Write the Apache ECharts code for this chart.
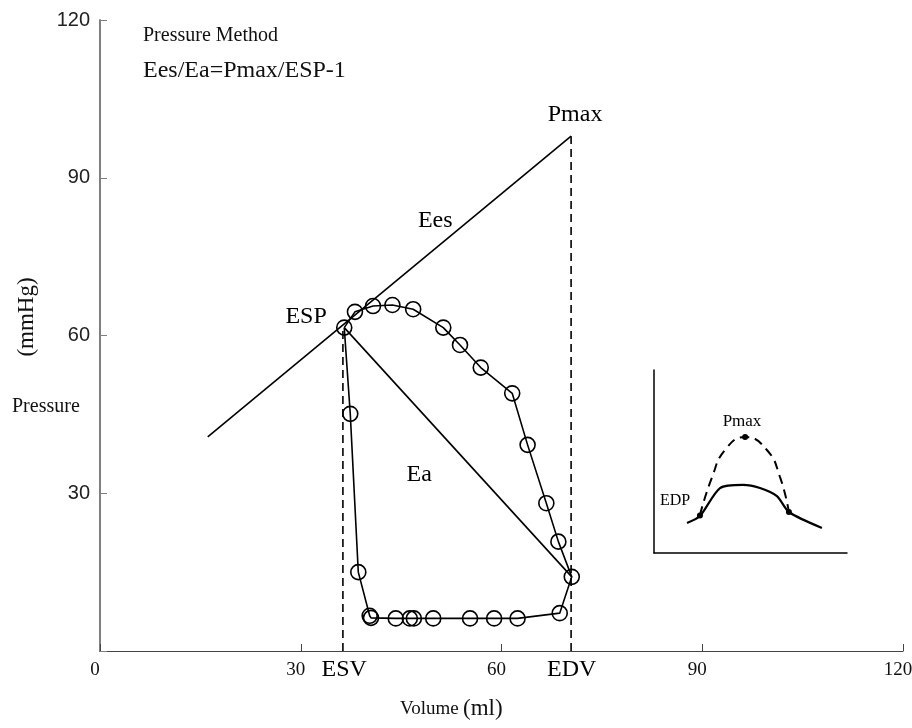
<!DOCTYPE html>
<html>
<head>
<meta charset="utf-8">
<script src="https://cdn.jsdelivr.net/npm/echarts@6/dist/echarts.min.js"></script>
<style>
  html, body { margin: 0; padding: 0; background: #fff; }
  #main { width: 912px; height: 728px; }
</style>
</head>
<body>
<div id="main"></div>
<script>
// pressure-volume loop (ml, mmHg)
const loopX = [36.5, 38.1, 40.8, 43.7, 46.8, 51.3, 53.8, 56.9, 61.6, 63.9, 66.7, 68.5, 70.5, 68.7, 62.4, 58.9, 55.3, 49.8, 46.9, 46.3, 44.2, 40.5, 40.3, 38.6, 37.4, 36.5]
const loopY = [61.5, 64.5, 65.6, 65.8, 65.0, 61.5, 58.2, 53.9, 49.0, 39.2, 28.1, 20.8, 14.1, 7.2, 6.2, 6.2, 6.2, 6.2, 6.2, 6.2, 6.2, 6.3, 6.7, 15.0, 45.1, 61.5]

const eesLine = [[16.1, 40.7], [70.4, 97.9]]
const eaLine = [[36.5, 61.5], [70.5, 14.1]]
const esvLine = [[36.3, 0], [36.3, 61.5]]
const edvLine = [[70.4, 0], [70.4, 97.9]]

const xTicks = [0, 30, 60, 90, 120]
const yTicks = [30, 60, 90, 120]

// labels in the plot, [x, y, text]
const notes = [[50.1, 81.9, "Ees"], [71.0, 101.9, "Pmax"], [30.8, 63.5, "ESP"], [47.7, 33.5, "Ea"]]
const axisNotes = [[36.5, 0, "ESV"], [70.5, 0, "EDV"]]

// inset (arbitrary units 0-100)
const insetDashX = [23.8, 30.1, 36.8, 47.2, 58.5, 65.3, 69.9]
const insetDashY = [20.8, 41.5, 56.3, 63.4, 56.3, 41.5, 22.4]
const insetSolidX = [17.1, 23.8, 34.2, 46.1, 54.9, 63.7, 69.9, 87.0]
const insetSolidY = [16.4, 20.2, 35.5, 37.2, 35.5, 31.1, 22.4, 13.7]
const insetDots = [[23.8, 20.5], [47.2, 63.4], [69.9, 22.4]]
const insetPmax = [[45.6, 72.0, "Pmax"]]
const insetEdp = [[10.9, 28.5, "EDP"]]

const serif = "Liberation Serif"
const chartDom = document.getElementById("main")
const myChart = echarts.init(chartDom)

const loopData = loopX.map((x, i) => {
  const item = { value: [x, loopY[i]] }
  if (i === loopX.length - 1) item.symbol = "none"
  return item
})

const plainLine = (data, dashed) => ({
  type: "line",
  data: data,
  symbol: "none",
  silent: true,
  lineStyle: { color: "#000", width: 1.6, type: dashed ? [8, 5] : "solid" },
  z: 3,
})

const textSeries = (items, size, xi, extra) => ({
  type: "scatter",
  xAxisIndex: xi,
  yAxisIndex: xi,
  symbolSize: 0,
  silent: true,
  clip: false,
  itemStyle: { opacity: 1 },
  data: items.map(n => ({ value: [n[0], n[1]], name: n[2] })),
  label: Object.assign({
    show: true,
    position: "inside",
    formatter: "{b}",
    fontFamily: serif,
    fontSize: size,
    color: "#000",
    opacity: 1,
  }, extra || {}),
})

const option = {
  animation: false,
  grid: [
    { left: 100, right: 9, top: 20, bottom: 77, outerBoundsMode: "none" },
    { left: 654, top: 370, width: 193, height: 183, outerBoundsMode: "none" },
  ],
  xAxis: [
    {
      type: "value",
      min: 0,
      max: 120,
      interval: 30,
      axisLine: { lineStyle: { color: "#444", width: 1.2 } },
      axisTick: { inside: true, length: 7, lineStyle: { color: "#444" } },
      splitLine: { show: false },
      axisLabel: {
        fontFamily: serif, fontSize: 19, color: "#111", margin: 10,
        padding: [0, 10, 0, 0],
        formatter: v => (xTicks.includes(v) ? String(v) : ""),
      },
    },
    {
      type: "value",
      gridIndex: 1,
      min: 0,
      max: 100,
      axisLine: { onZero: false, lineStyle: { color: "#000", width: 1.5 } },
      axisTick: { show: false },
      axisLabel: { show: false },
      splitLine: { show: false },
    },
  ],
  yAxis: [
    {
      type: "value",
      min: 0,
      max: 120,
      interval: 30,
      axisLine: { show: true, lineStyle: { color: "#808080", width: 2 } },
      axisTick: { show: true, inside: true, length: 7, lineStyle: { color: "#808080" } },
      splitLine: { show: false },
      axisLabel: {
        fontFamily: "Liberation Sans", fontSize: 20, color: "#222", margin: 10,
        formatter: v => (yTicks.includes(v) ? String(v) : ""),
      },
    },
    {
      type: "value",
      gridIndex: 1,
      min: 0,
      max: 100,
      axisLine: { show: true, onZero: false, lineStyle: { color: "#000", width: 1.5 } },
      axisTick: { show: false },
      axisLabel: { show: false },
      splitLine: { show: false },
    },
  ],
  graphic: [
    { type: "text", left: 143, top: 26, style: { text: "Pressure Method", font: "20px " + serif, fill: "#111" } },
    { type: "text", left: 143, top: 59, style: { text: "Ees/Ea=Pmax/ESP-1", font: "24px " + serif, fill: "#111" } },
    { type: "text", left: 12, top: 397, style: { text: "Pressure", font: "20px " + serif, fill: "#111" } },
    {
      type: "text", x: 27, y: 317, rotation: Math.PI / 2,
      style: { text: "(mmHg)", font: "23px " + serif, fill: "#111", align: "center", verticalAlign: "middle" },
    },
    { type: "text", left: 400, top: 700, style: { text: "Volume", font: "19px " + serif, fill: "#111" } },
    { type: "text", left: 463, top: 697, style: { text: "(ml)", font: "23px " + serif, fill: "#111" } },
  ],
  series: [
    {
      type: "line",
      data: loopData,
      symbol: "circle",
      symbolSize: 15,
      silent: true,
      lineStyle: { color: "#000", width: 1.6 },
      itemStyle: { color: "rgba(0,0,0,0)", borderColor: "#000", borderWidth: 1.6 },
      z: 4,
    },
    plainLine(eesLine, false),
    plainLine(eaLine, false),
    plainLine(esvLine, true),
    plainLine(edvLine, true),
    textSeries(notes, 24, 0),
    textSeries(axisNotes, 24, 0, { position: "bottom", distance: 7 }),
    {
      type: "line",
      xAxisIndex: 1,
      yAxisIndex: 1,
      data: insetDashX.map((x, i) => [x, insetDashY[i]]),
      smooth: 0.5,
      symbol: "none",
      silent: true,
      lineStyle: { color: "#000", width: 2, type: [9, 6] },
    },
    {
      type: "line",
      xAxisIndex: 1,
      yAxisIndex: 1,
      data: insetSolidX.map((x, i) => [x, insetSolidY[i]]),
      smooth: 0.25,
      symbol: "none",
      silent: true,
      lineStyle: { color: "#000", width: 2.2 },
    },
    {
      type: "scatter",
      xAxisIndex: 1,
      yAxisIndex: 1,
      data: insetDots,
      symbolSize: 6,
      silent: true,
      itemStyle: { color: "#000", opacity: 1 },
    },
    textSeries(insetPmax, 17, 1),
    textSeries(insetEdp, 16, 1),
  ],
}

option && myChart.setOption(option)
</script>
</body>
</html>
